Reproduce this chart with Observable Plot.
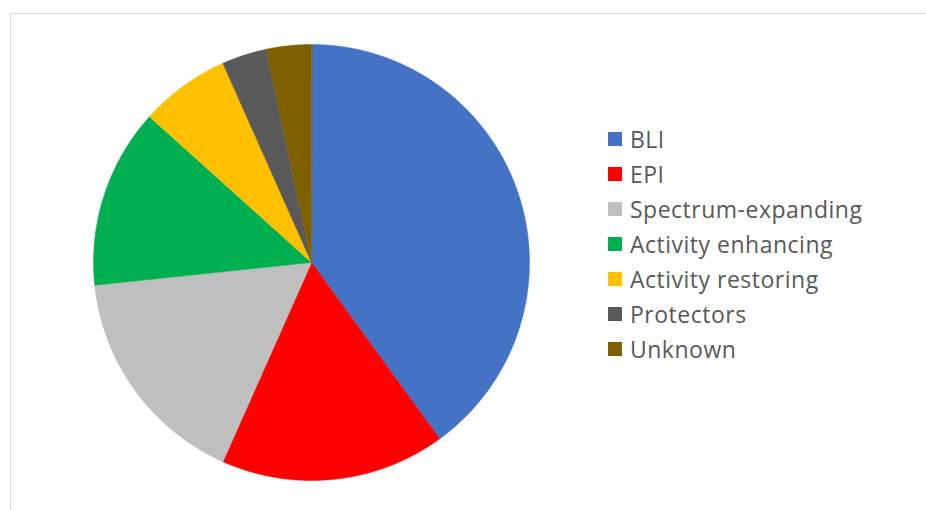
<!DOCTYPE html>
<html>
<head>
<meta charset="utf-8">
<script src="https://cdn.jsdelivr.net/npm/d3@7"></script>
<script src="https://cdn.jsdelivr.net/npm/@observablehq/plot@0.6"></script>
<style>
  html, body { margin: 0; padding: 0; background: #fff; overflow: hidden; }
  #wrap { position: relative; width: 926px; height: 510px; overflow: hidden; }
  #frame { position: absolute; left: 10px; top: 13px; width: 1000px; height: 600px;
           border-top: 1.5px solid #d9d9d9; border-left: 1.5px solid #d9d9d9; }
  #chart { position: absolute; left: 0; top: 0; }
  #legend { position: absolute; left: 608px; top: 121px; }
  #legend > div > div { height: 35px; padding-bottom: 0 !important; letter-spacing: 0.5px; }
  #legend svg { margin-right: 8px !important; }
</style>
</head>
<body>
<div id="wrap">
  <div id="frame"></div>
  <div id="chart"></div>
  <div id="legend"></div>
</div>
<script>
const categories = ["BLI", "EPI", "Spectrum-expanding", "Activity enhancing", "Activity restoring", "Protectors", "Unknown"];
const values = [12, 5, 5, 4, 2, 1, 1];
const colors = ["#4472C4", "#FF0000", "#BFBFBF", "#00B050", "#FFC000", "#595959", "#7F6000"];

const arcs = d3.pie().sort(null).value(d => d.value)(categories.map((c, i) => ({category: c, value: values[i]})));
const pts = [];
for (const a of arcs) {
  const k = a.data.category;
  pts.push({k, x: 0, y: 0});
  const n = Math.max(2, Math.ceil((a.endAngle - a.startAngle) / 0.005));
  for (let j = 0; j <= n; j++) {
    const t = a.startAngle + (a.endAngle - a.startAngle) * j / n;
    pts.push({k, x: Math.sin(t), y: Math.cos(t)});
  }
}

const plot = Plot.plot({
  width: 926,
  height: 510,
  margin: 0,
  x: {domain: [-1, 1], range: [93, 529], axis: null},
  y: {domain: [-1, 1], range: [480, 44], axis: null},
  color: {domain: categories, range: colors},
  marks: [
    Plot.line(pts, {x: "x", y: "y", z: "k", fill: "k", stroke: "k", strokeWidth: 0.5, curve: "linear-closed"})
  ]
});
document.getElementById("chart").appendChild(plot);

const legend = Plot.legend({
  color: {domain: categories, range: colors},
  legend: "swatches",
  columns: 1,
  swatchSize: 14,
  style: {fontFamily: "'Open Sans', sans-serif", fontSize: "23px", color: "#595959"}
});
document.getElementById("legend").appendChild(legend);
</script>
</body>
</html>
